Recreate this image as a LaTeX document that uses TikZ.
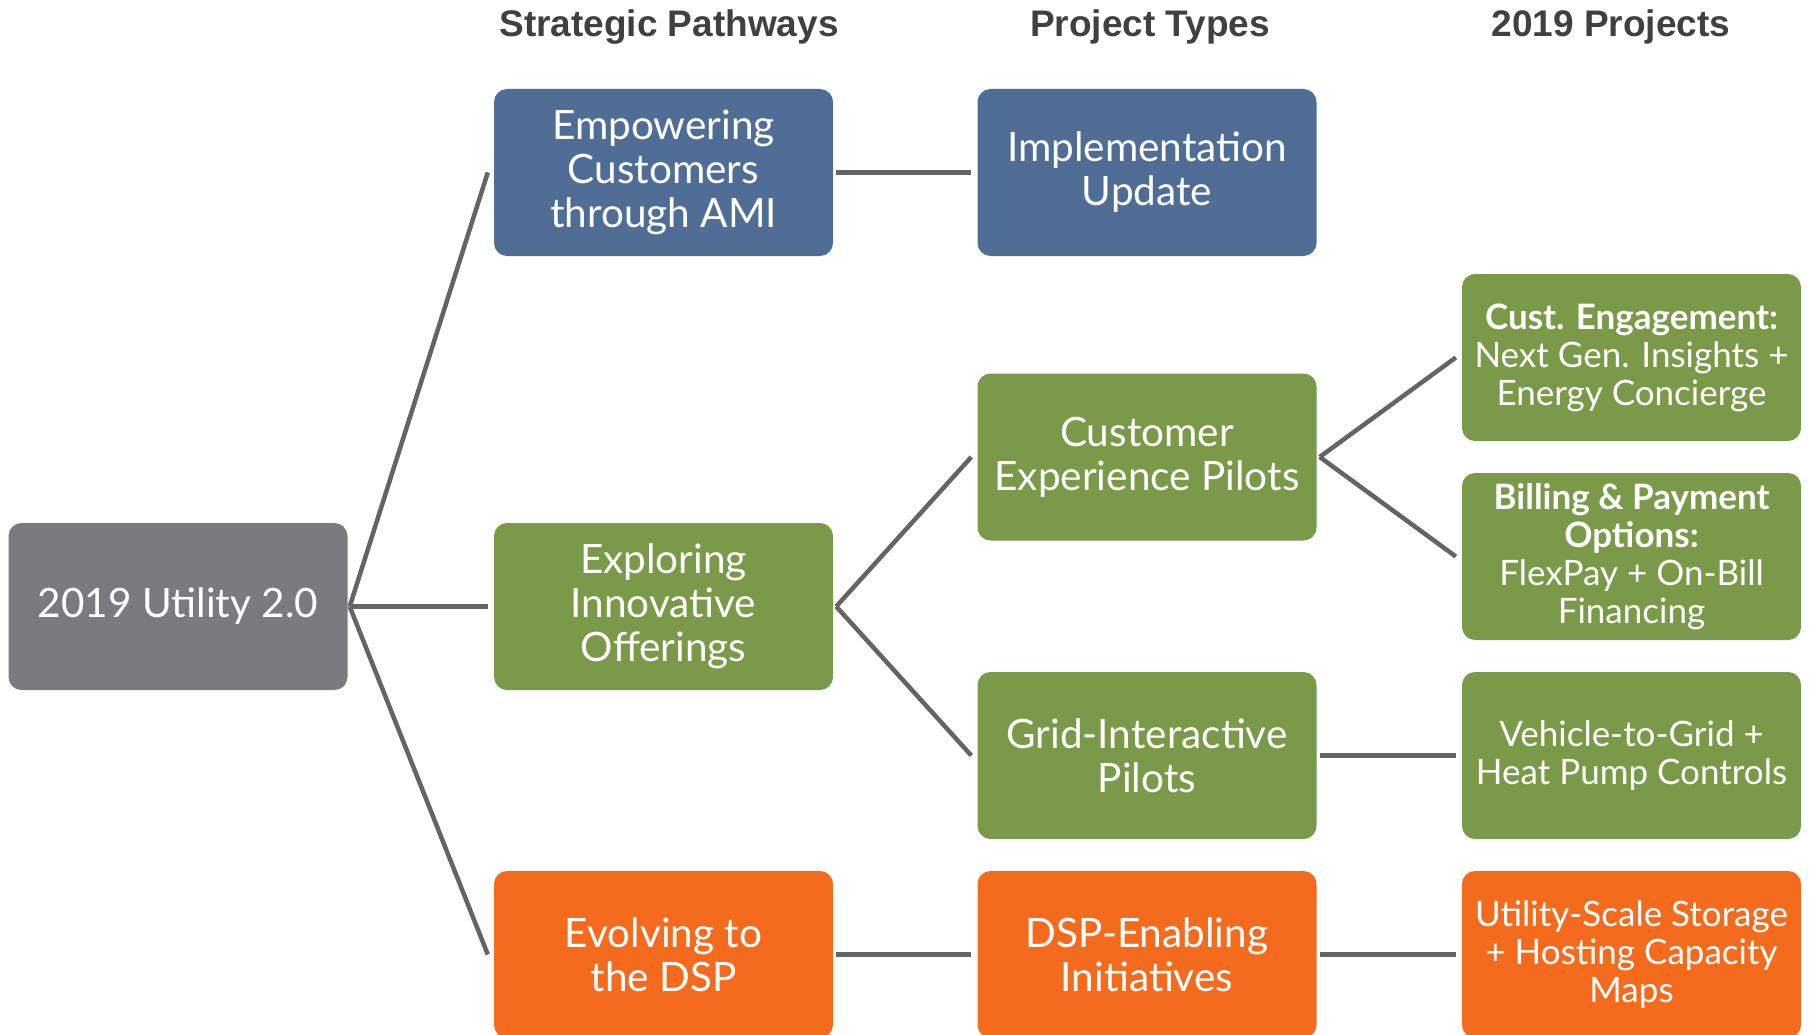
\documentclass[tikz,border=0pt]{standalone}
\usepackage{fontspec}
\setmainfont{Lato}
\newfontfamily\hdrfont{Liberation Sans}
\definecolor{cblue}{HTML}{4F6D95}
\definecolor{cgreen}{HTML}{7A9A4A}
\definecolor{corange}{HTML}{F56B1E}
\definecolor{cgray}{HTML}{7A7B7F}
\definecolor{linegray}{HTML}{636466}
\definecolor{hdrgray}{HTML}{404040}
\begin{document}
\begin{tikzpicture}[x=1pt,y=-1pt,
  box/.style={rounded corners=13pt, minimum width=339pt, minimum height=167pt, align=center, text=white, inner sep=0pt, font=\fontsize{40.5}{44}\selectfont},
  small/.style={box, font=\fontsize{35}{38}\selectfont},
  conn/.style={draw=linegray, line width=4.5pt},
  hdr/.style={font=\hdrfont\bfseries\fontsize{37}{40}\selectfont, text=hdrgray, inner sep=0pt}]
\useasboundingbox (0,0) rectangle (1814,1035);
\node[hdr] (h1) at (669,27) {Strategic Pathways};
\node[hdr] (h2) at (1150,27) {Project Types};
\node[hdr] (h3) at (1611,27) {2019 Projects};

\node[box, fill=cgray] (root) at (178,606.5) {2019 Utility 2.0};
\node[box, fill=cblue] (emp) at (663.5,172.5) {Empowering\\Customers\\through AMI};
\node[box, fill=cgreen] (exp) at (663.5,606.5) {Exploring\\Innovative\\Offerings};
\node[box, fill=corange] (evo) at (663.5,954.5) {Evolving to\\the DSP};

\node[box, fill=cblue] (imp) at (1147,172.5) {Implementation\\Update};
\node[box, fill=cgreen] (cxp) at (1147,457) {Customer\\Experience Pilots};
\node[box, fill=cgreen] (gip) at (1147,755.5) {Grid-Interactive\\Pilots};
\node[box, fill=corange] (dsp) at (1147,954.5) {DSP-Enabling\\Initiatives};

\node[small, fill=cgreen] (eng) at (1631.5,357.5) {\textbf{Cust. Engagement:}\\Next Gen. Insights +\\Energy Concierge};
\node[small, fill=cgreen] (bill) at (1631.5,556.5) {\textbf{Billing \& Payment}\\\textbf{Options:}\\FlexPay + On-Bill\\Financing};
\node[small, fill=cgreen] (v2g) at (1631.5,755.5) {Vehicle-to-Grid +\\Heat Pump Controls};
\node[small, fill=corange] (uss) at (1631.5,954.5) {Utility-Scale Storage\\+ Hosting Capacity\\Maps};

\draw[conn] ([xshift=2pt]root.east) -- ([xshift=-6pt]emp.west);
\draw[conn] ([xshift=2pt]root.east) -- ([xshift=-6pt]exp.west);
\draw[conn] ([xshift=2pt]root.east) -- ([xshift=-6pt]evo.west);
\draw[conn] ([xshift=3pt]emp.east) -- ([xshift=-6pt]imp.west);
\draw[conn] ([xshift=3pt]exp.east) -- ([xshift=-6pt]cxp.west);
\draw[conn] ([xshift=3pt]exp.east) -- ([xshift=-6pt]gip.west);
\draw[conn] ([xshift=3pt]evo.east) -- ([xshift=-6pt]dsp.west);
\draw[conn] ([xshift=3pt]cxp.east) -- ([xshift=-6pt]eng.west);
\draw[conn] ([xshift=3pt]cxp.east) -- ([xshift=-6pt]bill.west);
\draw[conn] ([xshift=3pt]gip.east) -- ([xshift=-6pt]v2g.west);
\draw[conn] ([xshift=3pt]dsp.east) -- ([xshift=-6pt]uss.west);
\end{tikzpicture}
\end{document}
